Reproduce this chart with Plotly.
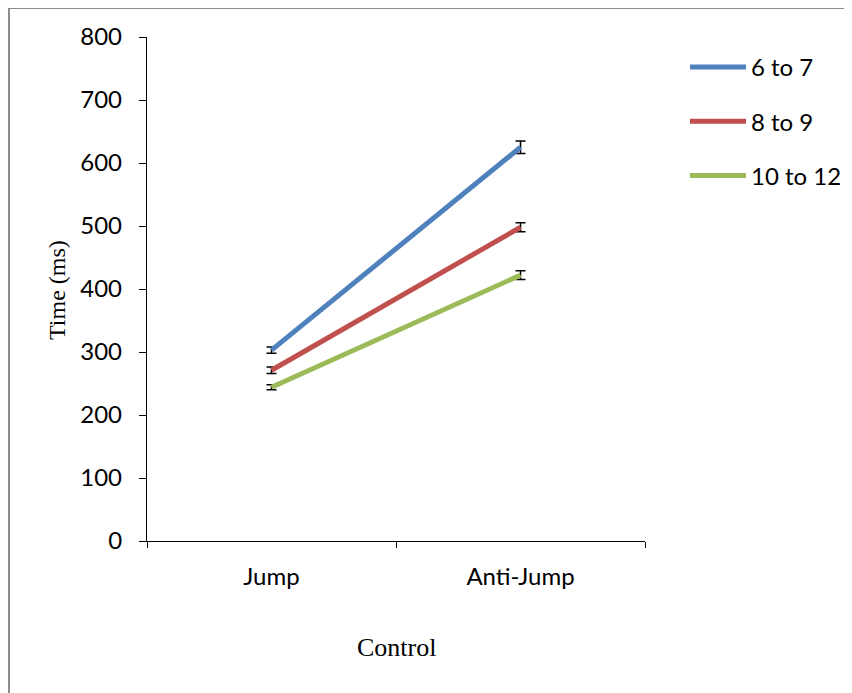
import plotly.graph_objects as go

categories = ["Jump", "Anti-Jump"]
series_names = ["6 to 7", "8 to 9", "10 to 12"]
values_6_7 = [303, 625]
values_8_9 = [271, 498]
values_10_12 = [244, 422]
err_6_7 = [5, 10]
err_8_9 = [5, 7]
err_10_12 = [4, 7]
colors = ["#4F81BD", "#C0504D", "#9BBB59"]
y_ticks = [0, 100, 200, 300, 400, 500, 600, 700, 800]

OFF = 8  # page body margin
W, H = 852 - OFF, 693 - OFF
L, R, T, B = 147, 645, 37, 541  # plot area in page pixels

fig = go.Figure()
for name, vals, errs, col in zip(series_names, [values_6_7, values_8_9, values_10_12],
                                 [err_6_7, err_8_9, err_10_12], colors):
    fig.add_trace(go.Scatter(
        x=categories, y=vals, name=name, mode="lines", legendgroup=name,
        line=dict(color=col, width=5),
        error_y=dict(type="data", array=errs, visible=True, color="black",
                     thickness=1.5, width=5),
    ))

def px_x(p):
    return (p - L) / (R - L)

def px_y(p):
    return (B - p) / (B - T)

tick_font = dict(family="Lato, Liberation Sans, sans-serif", size=24, color="black")

fig.update_layout(
    width=W, height=H,
    margin=dict(l=L - OFF, r=W - (R - OFF), t=T - OFF, b=H - (B - OFF), pad=0,
                autoexpand=False),
    paper_bgcolor="white", plot_bgcolor="white",
    showlegend=True,
    legend=dict(x=px_x(685), y=px_y(45), xanchor="left", yanchor="top",
                font=tick_font, traceorder="grouped", tracegroupgap=20,
                itemwidth=56, bgcolor="rgba(0,0,0,0)"),
    xaxis=dict(type="category", categoryorder="array", categoryarray=categories,
               range=[-0.5, 1.5], showline=True, linecolor="black", linewidth=1.3,
               ticks="outside", ticklen=6, tickcolor="black", tickwidth=1.3,
               tickson="boundaries", showgrid=False, zeroline=False,
               ticklabelstandoff=14, tickfont=tick_font),
    yaxis=dict(range=[0, 800], tickvals=y_ticks, showline=True, linecolor="black",
               linewidth=1.3, ticks="outside", ticklen=7, tickcolor="black",
               tickwidth=1.3, showgrid=False, zeroline=False,
               ticklabelstandoff=12, tickfont=tick_font),
    annotations=[
        dict(text="Time (ms)", textangle=-90, xref="paper", yref="paper",
             x=px_x(57), y=px_y(290), showarrow=False,
             font=dict(family="Liberation Serif, Times New Roman, serif", size=24, color="black"),
             xanchor="center", yanchor="middle"),
        dict(text="Control", xref="paper", yref="paper",
             x=px_x(396), y=px_y(647), showarrow=False,
             font=dict(family="Liberation Serif, Times New Roman, serif", size=26, color="black"),
             xanchor="center", yanchor="middle"),
    ],
    shapes=[
        dict(type="line", xref="paper", yref="paper",
             x0=px_x(9), x1=px_x(9), y0=px_y(8), y1=px_y(720),
             line=dict(color="#8c8c8c", width=2)),
        dict(type="line", xref="paper", yref="paper",
             x0=px_x(9), x1=px_x(880), y0=px_y(8), y1=px_y(8),
             line=dict(color="#8c8c8c", width=2)),
    ],
)

fig.write_html("out.html")
